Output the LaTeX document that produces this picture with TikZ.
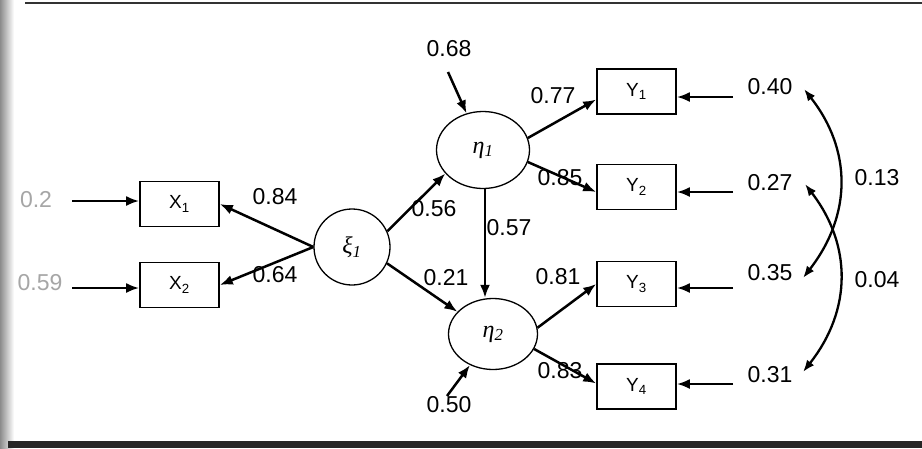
\documentclass[tikz,border=0pt]{standalone}
\usepackage{fontspec}
\setmainfont{Liberation Sans}
\newfontfamily\grkfont{Liberation Serif}
\usetikzlibrary{arrows.meta,shapes.geometric}
\begin{document}
\begin{tikzpicture}[x=1pt,y=-1pt,
  obs/.style={draw,line width=1.6pt,minimum width=79pt,minimum height=45pt,inner sep=0pt,font=\fontsize{19}{19}\selectfont},
  lat/.style={draw,ellipse,line width=1.3pt,inner sep=0pt,font=\grkfont\itshape\fontsize{24}{24}\selectfont},
  arr/.style={line width=2.5pt,-{Latex[length=13pt,width=10pt]}},
  darr/.style={line width=2.3pt,{Latex[length=12pt,width=9pt]}-{Latex[length=12pt,width=9pt]}},
  num/.style={font=\fontsize{23}{23}\selectfont,inner sep=0pt},
  fnum/.style={num,text=black!35}]
\useasboundingbox (0,0) rectangle (922,448);
\fill[white] (0,0) rectangle (922,448);
\shade[left color=black!45,right color=white] (0,0) rectangle (14,448);
\draw[line width=2.5pt,black!80] (25,3) -- (922,3);
\fill[black!85] (8,441) rectangle (922,448);

% observed variables
\node[obs] (X1) at (179.5,204) {X\textsubscript{1}};
\node[obs] (X2) at (179.5,285) {X\textsubscript{2}};
\node[obs] (Y1) at (636.5,91.5) {Y\textsubscript{1}};
\node[obs] (Y2) at (636.5,187) {Y\textsubscript{2}};
\node[obs] (Y3) at (636.5,284) {Y\textsubscript{3}};
\node[obs] (Y4) at (636.5,386.5) {Y\textsubscript{4}};

% latent variables
\node[lat,circle,minimum size=76pt] (xi) at (352,247) {ξ\textsubscript{1}};
\node[lat,minimum width=93pt,minimum height=77pt] (eta1) at (483,150) {η\textsubscript{1}};
\node[lat,minimum width=89pt,minimum height=71pt] (eta2) at (493,334) {η\textsubscript{2}};

% error sources
\coordinate (eX1) at (72,201);
\coordinate (eX2) at (72,288);
\coordinate (eY1) at (733,97);
\coordinate (eY2) at (733,192);
\coordinate (eY3) at (733,288);
\coordinate (eY4) at (733,384);
\coordinate (e68) at (448,72);
\coordinate (e50) at (447,396);

\node[fnum] (l02) at (36,200) {0.2};
\node[fnum] (l059) at (40,283) {0.59};

\draw[arr] (eX1) -- (eX1 -| X1.west);
\draw[arr] (eX2) -- (eX2 -| X2.west);
\draw[arr] (eY1) -- (eY1 -| Y1.east);
\draw[arr] (eY2) -- (eY2 -| Y2.east);
\draw[arr] (eY3) -- (eY3 -| Y3.east);
\draw[arr] (eY4) -- (eY4 -| Y4.east);
\draw[arr] (e68) -- (eta1);
\draw[arr] (e50) -- (eta2);

% structural paths
\draw[arr] (xi.west) -- (X1.east);
\draw[arr] (xi.west) -- (X2.east);
\draw[arr] (xi.24) -- (eta1.212);
\draw[arr] (xi.335) -- (eta2.148);
\draw[arr] ([xshift=2pt]eta1.south) -- ([xshift=-8pt]eta2.north);
\draw[arr] (eta1.15) -- ([yshift=-8pt]Y1.west);
\draw[arr] (eta1.345) -- ([yshift=-5pt]Y2.west);
\draw[arr] (eta2.8) -- (Y3.west);
\draw[arr] (eta2.340) -- ([yshift=3pt]Y4.west);

% error labels
\node[num] (n40) at (770,87) {0.40};
\node[num] (n27) at (770,183) {0.27};
\node[num] (n35) at (770,273) {0.35};
\node[num] (n31) at (770,375) {0.31};
\coordinate (c40) at (804,89);
\coordinate (c27) at (805,184);
\coordinate (c35) at (803,278);
\coordinate (c31) at (803,372);
\draw[darr] (c40) .. controls (852,150) and (852,215) .. (c35);
\draw[darr] (c27) .. controls (852,245) and (852,310) .. (c31);
\node[num] (n13) at (877,178) {0.13};
\node[num] (n04) at (877,280) {0.04};

% path labels
\node[num] at (275,197) {0.84};
\node[num] at (275,275) {0.64};
\node[num] at (434,209) {0.56};
\node[num] at (509,228) {0.57};
\node[num] at (446,278) {0.21};
\node[num] at (553,96) {0.77};
\node[num] at (560,178) {0.85};
\node[num] at (558,277) {0.81};
\node[num] at (560,371) {0.83};
\node[num] at (449,49) {0.68};
\node[num] at (449,405) {0.50};
\end{tikzpicture}
\end{document}
